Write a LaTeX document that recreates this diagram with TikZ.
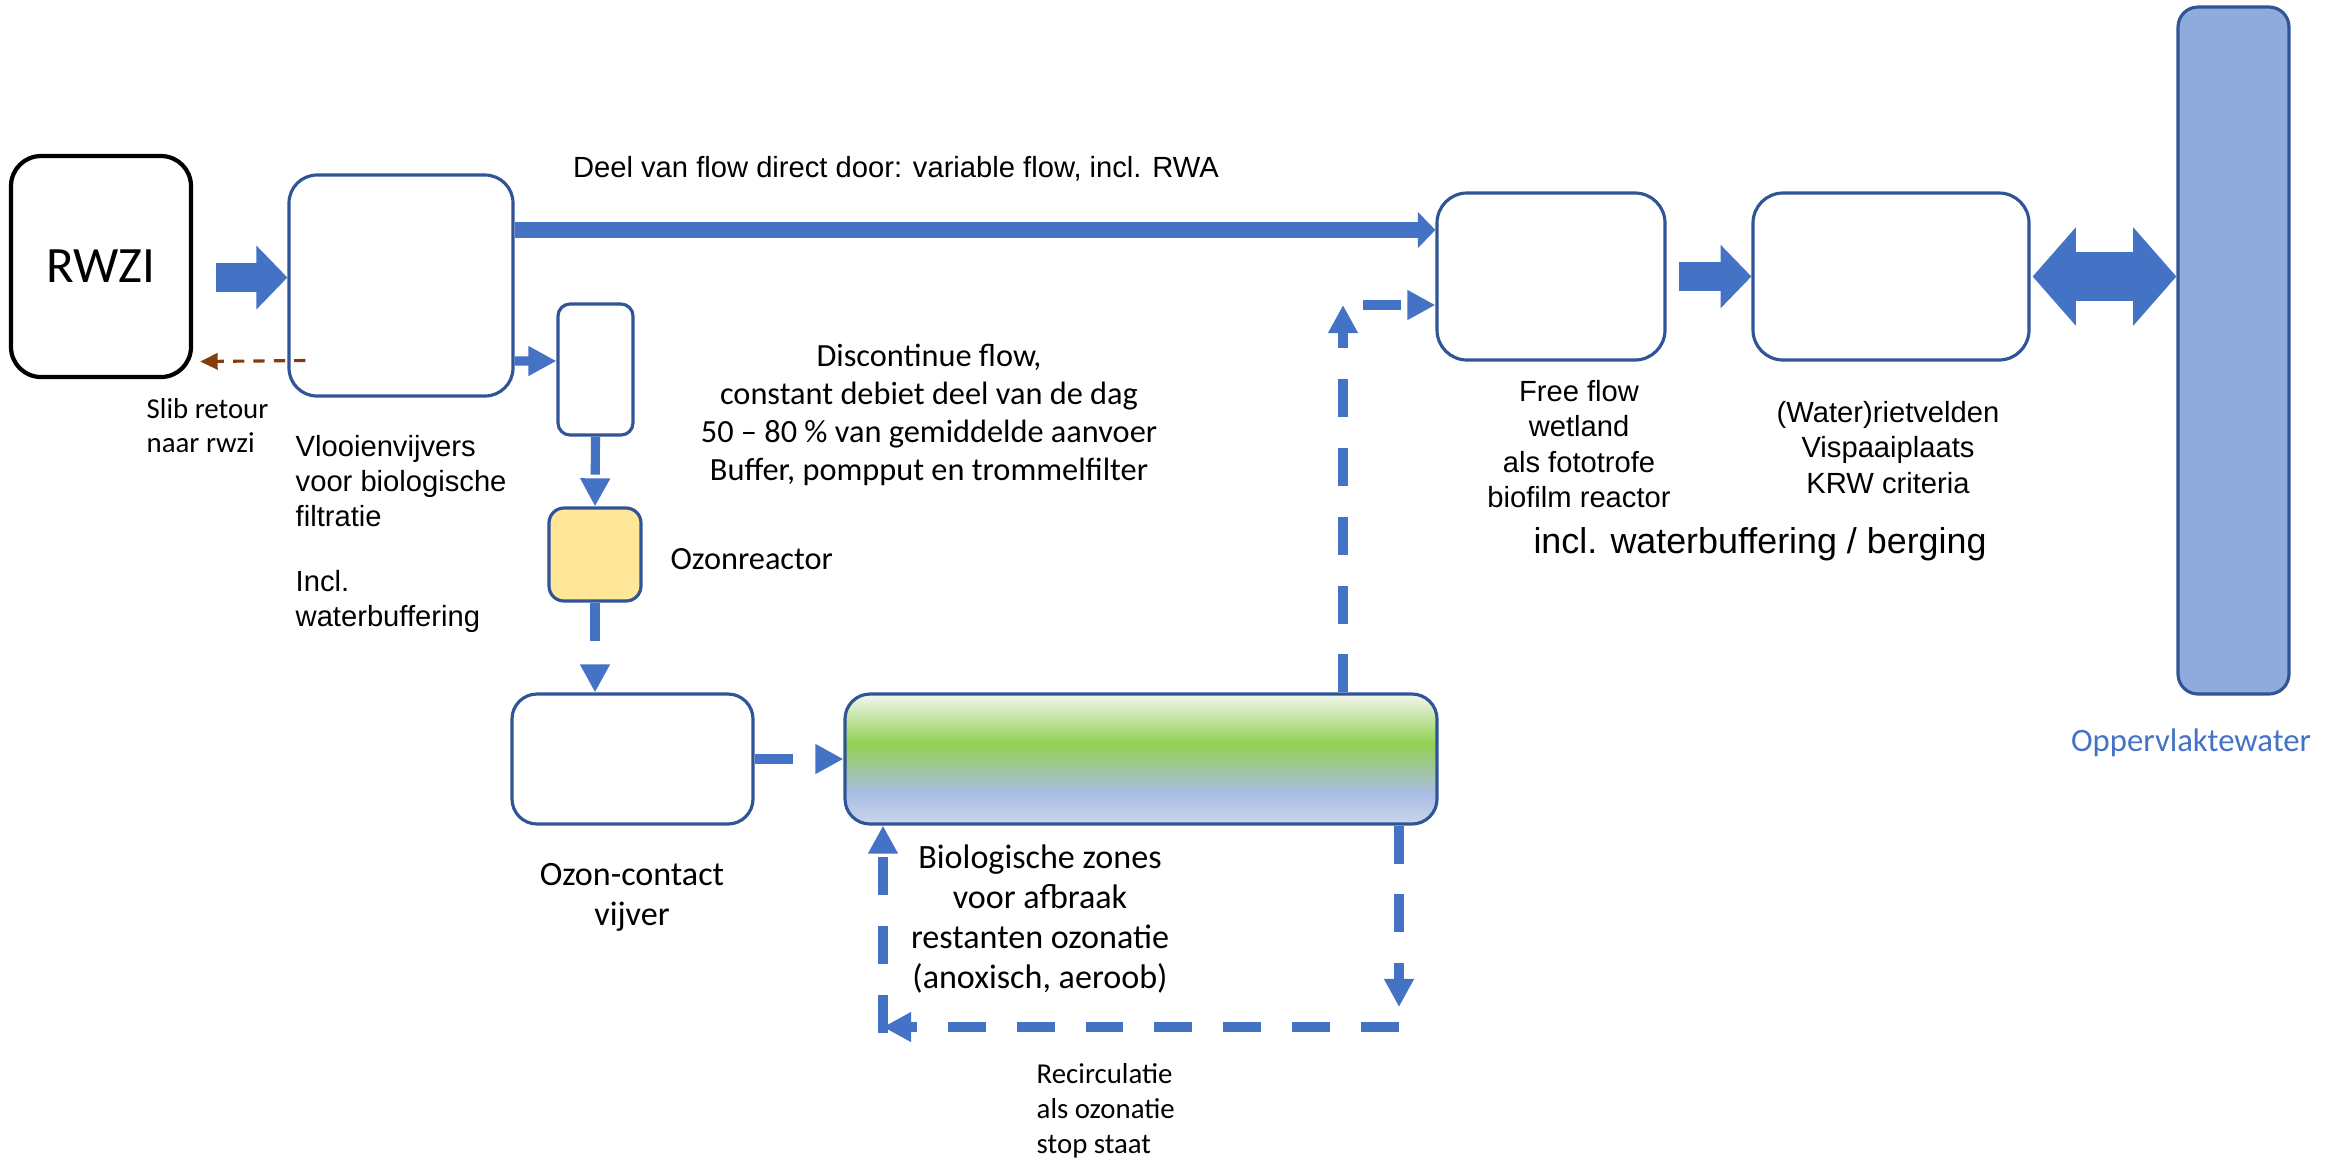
\documentclass[tikz,border=0pt]{standalone}
\usepackage{fontspec}
\setmainfont{Carlito}
\newfontfamily\arialfont{Liberation Sans}
\usetikzlibrary{arrows.meta}
\definecolor{lijnblauw}{HTML}{2F5597}
\definecolor{pijlblauw}{HTML}{4472C4}
\definecolor{waterblauw}{HTML}{8FAADC}
\definecolor{ozongeel}{HTML}{FFE699}
\definecolor{slibbruin}{HTML}{843C0C}
\definecolor{bioW}{HTML}{F4F7F0}
\definecolor{bioG}{HTML}{92D050}
\definecolor{bioB}{HTML}{A9BCE3}
\definecolor{bioC}{HTML}{CAD6EE}
\pgfdeclareverticalshading{bioshade}{100bp}{color(0bp)=(bioC); color(25bp)=(bioC); color(37bp)=(bioB); color(56bp)=(bioG); color(75bp)=(bioW); color(100bp)=(bioW)}
\tikzset{
  pond/.style={draw=lijnblauw, line width=0.9pt, rounded corners=2.8mm, inner sep=0pt},
  dashflow/.style={pijlblauw, line width=2.6pt, dash pattern=on 10.8pt off 8.8pt, -{Triangle[length=8pt,width=8pt]}},
  blockflow/.style={pijlblauw, line width=8.5pt, -{Triangle[length=8.8pt,width=17.6pt]}},
  sliblijn/.style={slibbruin, line width=0.9pt, dash pattern=on 3.2pt off 2.6pt, -{Triangle[length=5pt,width=4.6pt]}},
  arialtxt/.style={font=\arialfont\fontsize{8.3}{10}\selectfont, align=center, inner sep=0pt},
  caltxt/.style={font=\fontsize{9.7}{11.4}\selectfont, align=center, inner sep=0pt}
}
\begin{document}
\begin{tikzpicture}[x=0.1mm, y=-0.1mm]
\useasboundingbox (0,0) rectangle (2331,1167);
% boxes
\node[pond, draw=black, line width=1.2pt, rounded corners=3mm, minimum width=18mm, minimum height=22.1mm, font=\fontsize{14.5}{17}\selectfont] (rwzi) at (101,266.5) {RWZI};
\node[pond, minimum width=22.4mm, minimum height=22.1mm] (vijver) at (401,285.5) {};
\node[pond, rounded corners=1.2mm, minimum width=7.5mm, minimum height=13.1mm] (pompput) at (595.5,369.5) {};
\node[pond, rounded corners=1.5mm, fill=ozongeel, minimum width=9.2mm, minimum height=9.3mm] (ozonr) at (595,554.5) {};
\node[pond, rounded corners=2.5mm, minimum width=24.1mm, minimum height=13mm] (contact) at (632.5,759) {};
\node[pond, rounded corners=2.5mm, shading=bioshade, minimum width=59.2mm, minimum height=13mm] (bio) at (1141,759) {};
\node[pond, rounded corners=3mm, minimum width=22.8mm, minimum height=16.7mm] (wetland) at (1551,276.5) {};
\node[pond, rounded corners=3mm, minimum width=27.6mm, minimum height=16.7mm] (riet) at (1891,276.5) {};
\node[pond, rounded corners=2mm, fill=waterblauw, minimum width=11.1mm, minimum height=68.7mm] (opp) at (2233.5,350.5) {};

% flows
\draw[blockflow] ([shift={(23,11)}]rwzi.east) -- ([shift={(0,-8)}]vijver.west);
\draw[sliblijn] ([shift={(18,75)}]vijver.west) -- ([shift={(7,95)}]rwzi.east);
\draw[pijlblauw, line width=4.8pt, -{Triangle[length=5pt,width=10pt]}] ([shift={(0,-55.5)}]vijver.east) -- ([shift={(0,-46.5)}]wetland.west);
\draw[dashflow] ([shift={(0,75.5)}]vijver.east) -- ([shift={(0,-8.5)}]pompput.west);
\draw[dashflow] (pompput.south) -- (ozonr.north);
\draw[dashflow] (ozonr.south) -- (contact.north -| ozonr.south);
\draw[dashflow] (contact.east) -- (bio.west);
\coordinate (knik) at (1343,305);
\draw[dashflow] (bio.north -| knik) -- (knik);
\draw[dashflow] ([xshift=2mm]knik) -- (wetland.west |- knik);
\coordinate (rc1) at (1399,1027);
\coordinate (rc2) at (883,1027);
\draw[dashflow] (bio.south -| rc1) -- ([shift={(0,-20)}]rc1);
\draw[dashflow] (rc1) -- (rc2);
\draw[dashflow] ([shift={(0,6)}]rc2) -- (bio.south -| rc2);
\draw[blockflow] ([xshift=1.2mm]wetland.east) -- (riet.west);
\draw[pijlblauw, line width=14.2pt, {Triangle[length=12.3pt,width=27.3pt]}-{Triangle[length=12.3pt,width=27.3pt]}] ([xshift=0.2mm]riet.east) -- (opp.west |- riet.east);

% labels
\node[arialtxt] (deeltxt) at (896,169) {Deel van flow direct door: variable flow, incl. RWA};
\node[font=\fontsize{8.2}{9.7}\selectfont, align=left, inner sep=0pt, anchor=west] (slibtxt) at (146,426) {Slib retour\\naar rwzi};
\node[arialtxt, align=left, anchor=west] (vijvertxt) at (295,534) {Vlooienvijvers\\voor biologische\\filtratie\\[3mm]Incl.\\waterbuffering};
\node[caltxt, font=\fontsize{9.2}{10.8}\selectfont] (discotxt) at (929,415) {Discontinue flow,\\constant debiet deel van de dag\\50 -- 80 \% van gemiddelde aanvoer\\Buffer, pompput en trommelfilter};
\node[caltxt, font=\fontsize{9.2}{10.8}\selectfont, anchor=west] (ozontxt) at (670,559) {Ozonreactor};
\node[caltxt] (contacttxt) at (632,897) {Ozon-contact\\vijver};
\node[caltxt] (biotxt) at (1040,919) {Biologische zones\\voor afbraak\\restanten ozonatie\\(anoxisch, aeroob)};
\node[font=\fontsize{8.2}{10}\selectfont, align=left, inner sep=0pt, anchor=west] (recirctxt) at (1036,1111) {Recirculatie\\als ozonatie\\stop staat};
\node[arialtxt] (wetlandtxt) at (1579,444) {Free flow\\wetland\\als fototrofe\\biofilm reactor};
\node[arialtxt] (riettxt) at (1888,447.5) {(Water)rietvelden\\Vispaaiplaats\\KRW criteria};
\node[arialtxt, font=\arialfont\fontsize{10.2}{12}\selectfont] (bergtxt) at (1760,544) {incl. waterbuffering / berging};
\node[caltxt, font=\fontsize{9.3}{11}\selectfont, text=pijlblauw] (opptxt) at (2191,743) {Oppervlaktewater};
\end{tikzpicture}
\end{document}
